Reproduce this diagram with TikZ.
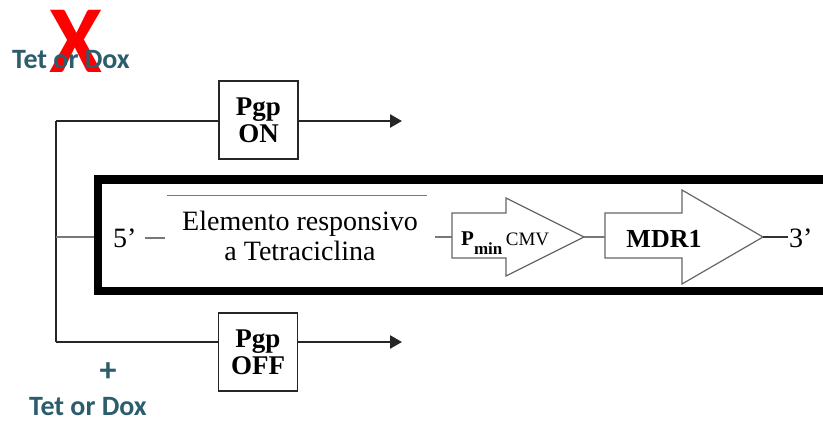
\documentclass[tikz,border=0pt]{standalone}
\usepackage{fontspec}
\setmainfont{Liberation Serif}
\newfontfamily\calfont{Carlito}
\usetikzlibrary{arrows.meta}
\definecolor{tealtxt}{RGB}{44,93,108}
\definecolor{redx}{RGB}{255,0,0}
\definecolor{thin}{RGB}{120,120,120}
\begin{document}
\begin{tikzpicture}[x=1pt,y=-1pt,
  pgpbox/.style={draw=black!85, line width=1.5pt, minimum width=79pt, minimum height=78pt, inner sep=0pt, align=center, font=\bfseries\fontsize{27}{27}\selectfont},
  mainline/.style={line width=2.5pt, draw=black!85},
  arrline/.style={mainline, -{Triangle[length=12pt,width=13pt]}},
  thinline/.style={line width=1.1pt, draw=thin},
  genearrow/.style={draw=black!60, line width=1.2pt, fill=white, line join=miter},
  drug/.style={text=tealtxt, font=\calfont\bfseries\fontsize{28}{30}\selectfont, inner sep=0pt},
  sertxt/.style={inner sep=0pt, font=\fontsize{28}{30}\selectfont}
]
\useasboundingbox (0,0) rectangle (823,421);
% drugs
\node[text=redx, font=\calfont\bfseries\fontsize{96}{96}\selectfont, anchor=base, inner sep=0pt] (xmark) at (76,72) {X};
\node[drug, anchor=base] (drugtop) at (71,68) {Tet or Dox};
\node[drug, font=\calfont\bfseries\fontsize{34}{34}\selectfont] (plus) at (108,372) {+};
\node[drug, anchor=base] (drugbot) at (88,415) {Tet or Dox};
% trunk
\coordinate (vt) at (56,121);
\coordinate (vm) at (56,237);
\coordinate (vb) at (56,342);
\draw[mainline] (vt) -- (vb);
% Pgp boxes
\node[pgpbox] (on) at (258.5,120) {Pgp\\ON};
\node[pgpbox] (off) at (258,352) {Pgp\\OFF};
\coordinate (onend) at (402,121);
\coordinate (offend) at (402,342);
\draw[mainline] (vt) -- (on.west |- vt);
\draw[arrline] (on.east |- vt) -- (onend);
\draw[mainline] (vb) -- (off.west |- vb);
\draw[arrline] (off.east |- vb) -- (offend);
% thick frame
\draw[line width=8.5pt, line join=miter] (823,179.5) -- (98,179.5) -- (98,291) -- (823,291);
\draw[thinline] (vm) -- (93.75,237);
% contents
\node[sertxt, anchor=base west] (five) at (113,247) {5’};
\draw[thinline] (145,238) -- (165,238);
\draw[thinline, line width=0.9pt] (167,195) -- (427,195);
\node[sertxt, align=center] (tre) at (300,235.5) {Elemento responsivo\\a Tetraciclina};
% Pmin CMV arrow
\draw[genearrow] (452,213) -- (506,213) -- (506,198) -- (584,237) -- (506,276) -- (506,258) -- (452,258) -- cycle;
\coordinate (pin) at (452,237);
\coordinate (ptip) at (584,237);
\draw[thinline] (435,237) -- (pin);
\node[inner sep=0pt, anchor=base west] (pmin) at (461,245) {\bfseries\fontsize{21}{21}\selectfont P\raisebox{-9pt}{\fontsize{17}{17}\selectfont min}\,\mdseries\fontsize{19}{19}\selectfont CMV};
% MDR1 arrow
\draw[genearrow] (605,213) -- (682,213) -- (682,190) -- (763,237) -- (682,284) -- (682,258) -- (605,258) -- cycle;
\coordinate (min) at (605,237);
\coordinate (mtip) at (763,237);
\draw[thinline] (ptip) -- (min);
\node[inner sep=0pt, anchor=base, font=\bfseries\fontsize{26}{26}\selectfont] (mdr) at (664,247) {MDR1};
\coordinate (tend) at (788,237);
\draw[line width=1.1pt, draw=black!80] (mtip) -- (tend);
\node[sertxt, anchor=base west] (three) at (789,247) {3’};
\end{tikzpicture}
\end{document}
